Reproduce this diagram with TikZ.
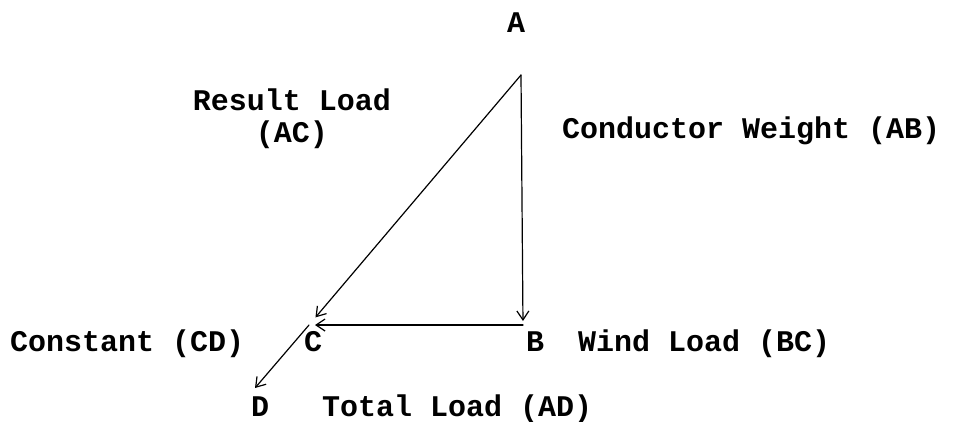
\documentclass[tikz,border=0pt]{standalone}
\usepackage{fontspec}
\setmonofont{Liberation Mono}
\usetikzlibrary{arrows.meta}
\begin{document}
\begin{tikzpicture}[x=1pt, y=-1pt, line join=round, line cap=round]
  \tikzset{
    vec/.style={line width=1.2pt, -{Straight Barb[length=9pt, width=12pt]}},
    lbl/.style={font=\ttfamily\bfseries\fontsize{30}{32}\selectfont, inner sep=0pt, anchor=base west}
  }
  \useasboundingbox (0,0) rectangle (954,421);

  \coordinate (A) at (521, 75);
  \coordinate (B) at (523, 325);
  \coordinate (C) at (309, 325);
  \coordinate (D) at (255, 388);

  % force triangle
  \draw[vec, shorten >=4pt] (A) -- (B);
  \draw[vec, shorten >=6pt] (B) -- (C);
  \draw[vec, shorten >=10pt] (A) -- (C);
  \draw[vec] (C) -- (D);

  \node[lbl] (tA) at (507, 32) {A};
  \node[lbl, anchor=base, align=center] (tAC) at (292, 142) {Result Load\\(AC)};
  \node[lbl] (tAB) at (562, 138) {Conductor Weight (AB)};
  \node[lbl] (tCD) at (10, 351) {Constant (CD)};
  \node[lbl] (tC) at (304, 351) {C};
  \node[lbl] (tB) at (526, 351) {B};
  \node[lbl] (tBC) at (578, 351) {Wind Load (BC)};
  \node[lbl] (tD) at (251, 416) {D};
  \node[lbl] (tAD) at (322, 416) {Total Load (AD)};
\end{tikzpicture}
\end{document}
